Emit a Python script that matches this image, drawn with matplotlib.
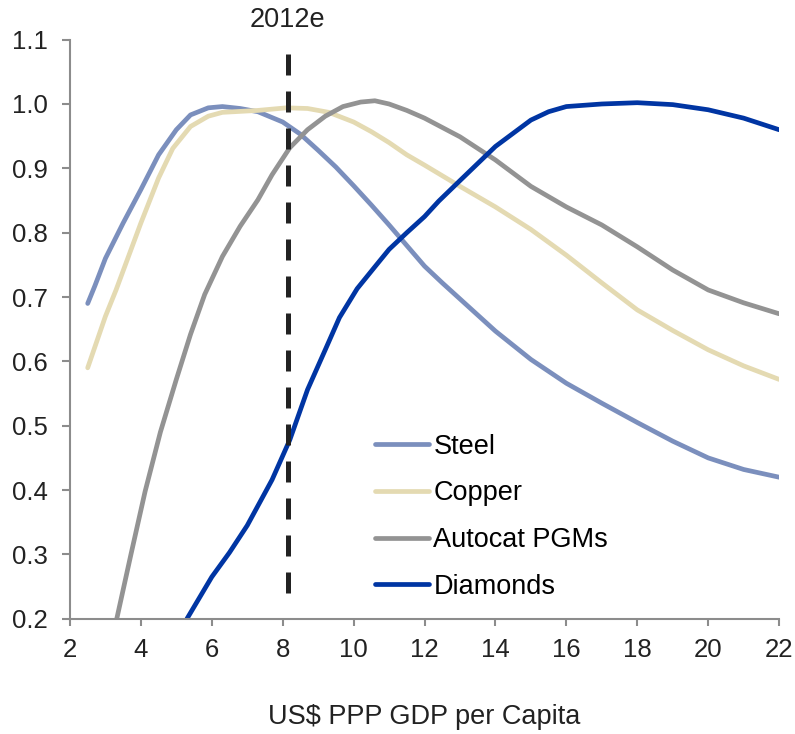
import matplotlib.pyplot as plt
import numpy as np

plt.rcParams['font.family'] = ['Liberation Sans', 'DejaVu Sans']

# 各系列の値 (GDP per capita, 千US$)
steel_x = [2.5, 2.7, 3, 3.5, 4, 4.5, 5, 5.4, 5.9, 6.3, 6.8, 7.3, 8, 8.5, 9, 9.5, 10, 10.5, 11, 11.5,
           12, 12.5, 13, 14, 15, 16, 17, 18, 19, 20, 21, 22]
steel_y = [0.69, 0.717, 0.76, 0.815, 0.867, 0.921, 0.96, 0.983, 0.994, 0.996, 0.993, 0.988, 0.972,
           0.953, 0.928, 0.902, 0.873, 0.843, 0.812, 0.78, 0.748, 0.722, 0.697, 0.647, 0.603, 0.566,
           0.535, 0.505, 0.476, 0.450, 0.432, 0.42]

copper_x = [2.5, 3, 3.3, 4, 4.5, 4.9, 5.4, 5.9, 6.3, 7.3, 8.1, 8.7, 9.3, 10, 10.5, 11, 11.5, 12,
            13, 14, 15, 16, 17, 18, 19, 20, 21, 22]
copper_y = [0.59, 0.67, 0.711, 0.815, 0.885, 0.931, 0.965, 0.981, 0.987, 0.99, 0.994, 0.993, 0.987,
            0.972, 0.957, 0.94, 0.921, 0.905, 0.872, 0.84, 0.805, 0.765, 0.722, 0.68, 0.648, 0.618,
            0.593, 0.572]

pgm_x = [3.32, 3.72, 4.12, 4.55, 5.0, 5.4, 5.8, 6.3, 6.8, 7.3, 7.7, 8.2, 8.7, 9.2, 9.7, 10.2, 10.6,
         11, 11.5, 12, 13, 14, 15, 16, 17, 18, 19, 20, 21, 22]
pgm_y = [0.2, 0.3, 0.398, 0.49, 0.572, 0.642, 0.704, 0.763, 0.81, 0.851, 0.89, 0.932, 0.96, 0.981,
         0.996, 1.003, 1.005, 1.0, 0.99, 0.978, 0.949, 0.913, 0.872, 0.84, 0.812, 0.778, 0.742, 0.711,
         0.691, 0.674]

dia_x = [5.3, 6, 6.5, 7, 7.7, 8.2, 8.7, 9.2, 9.6, 10.1, 10.6, 11, 11.5, 12, 12.4, 13, 14, 15, 15.5,
         16, 17, 18, 19, 20, 21, 22]
dia_y = [0.2, 0.265, 0.303, 0.345, 0.416, 0.478, 0.556, 0.618, 0.668, 0.713, 0.747, 0.774, 0.8, 0.825,
         0.849, 0.881, 0.934, 0.975, 0.988, 0.996, 1.0, 1.002, 0.999, 0.991, 0.978, 0.96]

labels = ['Steel', 'Copper', 'Autocat PGMs', 'Diamonds']
colors = ['#7b8fbd', '#e4dab2', '#939393', '#0035a3']

est_year_x = 8.14

fig = plt.figure(figsize=(7.95, 7.34), dpi=100)
ax = fig.add_axes([0.088, 0.157, 0.892, 0.789])

series = [(steel_x, steel_y), (copper_x, copper_y), (pgm_x, pgm_y), (dia_x, dia_y)]
for (xs, ys), lab, c in zip(series, labels, colors):
    ax.plot(xs, ys, color=c, lw=3.4, label=lab, solid_capstyle='round', solid_joinstyle='round')

# 2012年推計の縦線
ax.plot([est_year_x, est_year_x], [0.24, 1.096], color='#222222', lw=3.6,
        linestyle=(0, (4.2, 3.2)), clip_on=False)
ax.text(est_year_x, 1.13, '2012e', ha='center', va='center', fontsize=19.5, color='#222222')

ax.set_xlim(2, 22)
ax.set_ylim(0.2, 1.1)
ax.set_xticks(np.arange(2, 23, 2))
ax.set_yticks(np.arange(0.2, 1.11, 0.1))
ax.set_yticklabels(['%.1f' % v for v in np.arange(0.2, 1.11, 0.1)])

for s in ['top', 'right']:
    ax.spines[s].set_visible(False)
for s in ['left', 'bottom']:
    ax.spines[s].set_color('#8c8c8c')
    ax.spines[s].set_linewidth(1.5)
ax.tick_params(axis='both', colors='#8c8c8c', width=1.5, labelsize=18.5, labelcolor='#222222')
ax.tick_params(axis='y', length=6, pad=10)
ax.tick_params(axis='x', length=5, pad=9)

ax.set_xlabel('US$ PPP GDP per Capita', fontsize=19.5, color='#222222', labelpad=30)

leg = ax.legend(loc='upper left', bbox_to_anchor=(0.415, 0.338), frameon=False, fontsize=19.5,
                handlelength=2.0, handletextpad=0.15, labelspacing=0.76, borderaxespad=0)

plt.savefig('out.png')
plt.close()
